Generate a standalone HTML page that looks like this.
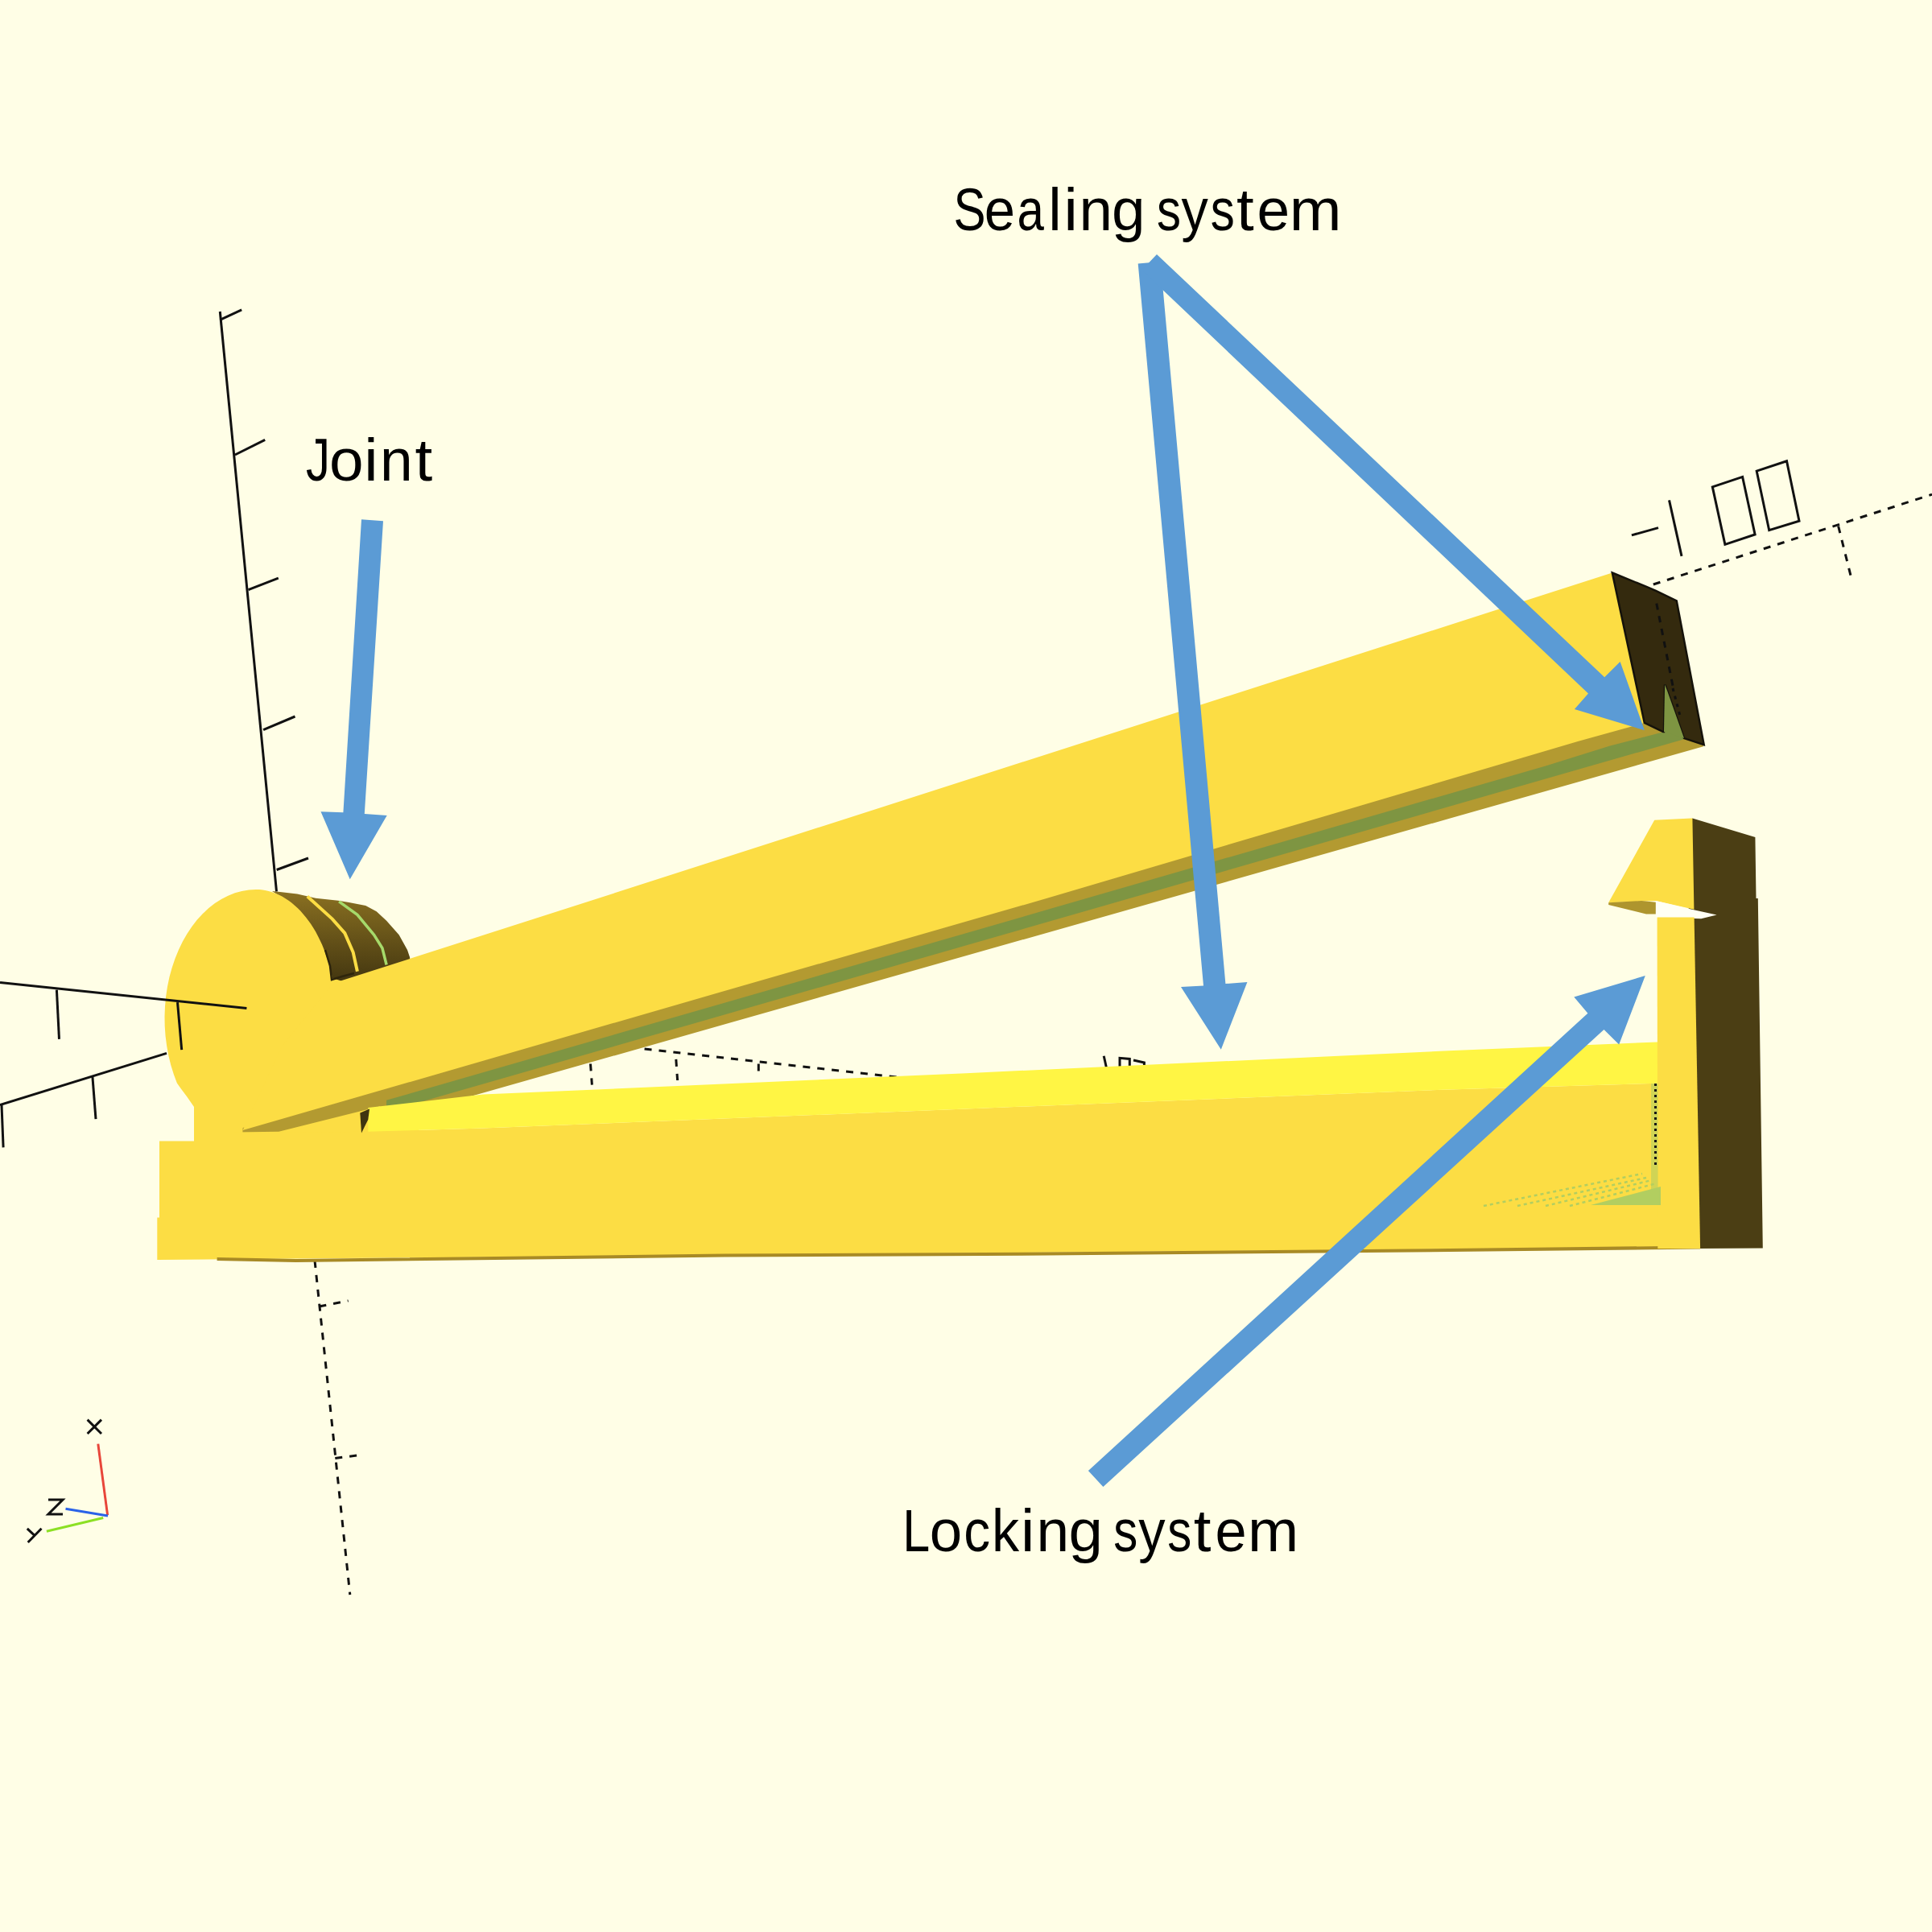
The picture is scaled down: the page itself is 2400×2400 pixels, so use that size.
<!DOCTYPE html>
<html><head><meta charset="utf-8"><title>Sealer diagram</title>
<style>
html,body{margin:0;padding:0;background:#FFFEE6;}
body{width:2400px;height:2400px;overflow:hidden;}
svg{display:block;}
text{font-family:"Liberation Sans",sans-serif;}
</style></head>
<body>
<svg width="2400" height="2400" viewBox="0 0 2400 2400">
<defs>
<linearGradient id="ridge" x1="0" y1="1105" x2="0" y2="1220" gradientUnits="userSpaceOnUse">
<stop offset="0" stop-color="#8C7222"/><stop offset="1" stop-color="#433610"/>
</linearGradient>
</defs>
<rect x="0" y="0" width="2400" height="2400" fill="#FFFEE6"/>

<!-- AXES -->
<g id="daxes" stroke="#111" stroke-width="3" fill="none" stroke-dasharray="9 9">
<line x1="391" y1="1566" x2="434.8" y2="1981"/>
<line x1="396.4" y1="1623" x2="432.6" y2="1615.9"/>
<line x1="416.3" y1="1811.5" x2="450.7" y2="1807"/>
<line x1="800.6" y1="1302.9" x2="1300" y2="1359"/>
<line x1="733.5" y1="1321.5" x2="735.4" y2="1347.6"/>
<line x1="839.8" y1="1315.9" x2="841.6" y2="1342"/>
<line x1="942.3" y1="1321.5" x2="942.3" y2="1336.4"/>
<line x1="2053.8" y1="726" x2="2400" y2="614.2"/>
<line x1="2283.6" y1="653.5" x2="2300.2" y2="719.8"/>
</g>
<g id="labels" stroke="#111" stroke-width="3" fill="none">
<line x1="2026.9" y1="664.9" x2="2060" y2="655.6"/>
<line x1="2073.5" y1="621.4" x2="2089" y2="690.8"/>
<polygon points="2127.3,604.9 2164.6,592.4 2180.1,663.9 2142.9,676.3"/>
<polygon points="2182.2,585.2 2219.5,572.8 2235,647.3 2197.7,658.7"/>
<line x1="1371.2" y1="1311.7" x2="1374.8" y2="1328"/>
<polyline points="1391,1328 1391,1314.3 1403.3,1315.4 1403.3,1328"/>
<polyline points="1408,1317 1421.4,1320 1421.4,1328"/>
</g>

<!-- DISK -->
<path id="ridges" fill="url(#ridge)" d="M343.5,1107.4 L369.3,1110.5 L392.1,1115.7 L420,1118.8 L433.5,1120.9 L454.2,1125 L467.7,1132.3 L480.1,1143.7 L495.6,1161.3 L506,1179.9 L509.1,1189.2 L512,1240 L412,1240 L405,1215 L404,1198.5 L398,1183 L388,1159.2 L376,1138.5 L356,1118.8 L338,1107 Z"/>
<polygon id="disk" fill="#FCDD44" points="241,1375 232,1362 224.5,1352 219.9,1345.5 215.8,1334.6 212.3,1323.2 209.4,1311.4 207.2,1299.4 205.6,1287.2 204.7,1274.8 204.5,1262.4 205.0,1249.9 206.2,1237.6 208.0,1225.5 210.5,1213.6 213.7,1201.9 217.5,1190.7 221.9,1179.9 226.8,1169.7 232.4,1160.0 238.4,1150.9 244.9,1142.6 251.9,1134.9 259.3,1128.1 267.0,1122.1 275.0,1116.9 283.3,1112.7 291.8,1109.3 300.4,1106.9 309.2,1105.5 318.0,1105.0 322.2,1105.1 326.3,1105.6 330.5,1106.3 334.6,1107.2 338.7,1108.5 342.8,1110.0 346.8,1111.8 350.8,1113.8 354.7,1116.2 358.6,1118.8 362.3,1121.6 366.0,1124.7 369.7,1128.0 373.2,1131.6 376.6,1135.4 380.0,1139.4 383.2,1143.7 386.3,1148.1 389.3,1152.8 392.2,1157.6 394.9,1162.7 397.5,1167.9 400.0,1173.3 402.3,1178.9 404.4,1184.6 406.5,1190.4 408.3,1196.4 410.1,1202.5 411.6,1208.7 413.0,1215.0 520,1250 520,1430 241,1430 241,1375"/>
<polyline fill="none" stroke="#FCDD44" stroke-width="4" points="381.8,1113.6 412.8,1141.6 428.3,1159.2 438.7,1183 443.9,1206.8"/>
<polyline fill="none" stroke="#2E250B" stroke-width="2.5" points="404,1180 410,1200 412,1217 425,1213 440,1209"/>
<polyline fill="none" stroke="#A6DA6A" stroke-width="3.5" points="421.1,1119.8 443.9,1136.4 464.6,1161.3 474.9,1177.8 480.1,1198.5"/>

<g id="axes" stroke="#111" stroke-width="3" fill="none" stroke-linecap="butt">
<line x1="273.3" y1="387" x2="343.5" y2="1107.4"/>
<line x1="273.3" y1="397.3" x2="300.2" y2="384.9"/>
<line x1="291.9" y1="565" x2="329.2" y2="546.4"/>
<line x1="308.5" y1="732.7" x2="345.8" y2="718.2"/>
<line x1="327.1" y1="906.6" x2="366.5" y2="890"/>
<line x1="343.7" y1="1080.5" x2="383" y2="1066"/>
<line x1="0" y1="1220.4" x2="306.4" y2="1252.5"/>
<line x1="70.4" y1="1229.7" x2="73.5" y2="1290.8"/>
<line x1="220.5" y1="1245.2" x2="225.7" y2="1304.2"/>
<line x1="0" y1="1372.6" x2="207" y2="1308.4"/>
<line x1="114.9" y1="1337.4" x2="119" y2="1390.2"/>
<line x1="2" y1="1372.6" x2="4.1" y2="1425.4"/>
</g>

<!-- ARM -->
<polygon id="armbrown" fill="#B39A31" points="301.6,1401 900,1228 1300,1113 1960,918 2042.8,894 2065.9,909.1 2067,909.1 2092,917.1 2116.7,925.1 2116,927.2 300,1442.8"/>
<polygon id="armgreen" fill="#7E9542" points="480,1366.8 900,1245.7 1300,1130.3 1920,951.5 2000,926.5 2066.4,909.3 2067,909.1 2068.1,850.4 2071,857.7 2092,917.1 2092,918.2 480,1381.1"/>
<polygon id="armfront" fill="#FCDD44" points="2002.8,711.5 413.7,1221.6 350,1300 301.6,1404.1 900,1231 1300,1116 1960,921.1 2042.8,898"/>
<polygon id="armdark" fill="#342A0E" stroke="#15120A" stroke-width="2.5" stroke-linejoin="miter" points="2002.8,711.5 2045.4,728.9 2057,733.9 2082.7,746.3 2116.7,925.1 2092,917.1 2071,857.7 2068.1,850.4 2067,909.1 2065.9,909.1 2042.8,898"/>
<polygon fill="#7E9542" points="2067,909.1 2068.1,850.4 2071,857.7 2092,917.1"/>
<line x1="2057.8" y1="749.6" x2="2078" y2="852" stroke="#111" stroke-width="3" stroke-dasharray="8 8"/>
<line x1="2078" y1="855" x2="2088" y2="893" stroke="#111" stroke-width="3" stroke-dasharray="4 6"/>

<!-- BASE -->
<polygon id="bracket" fill="#FCDD44" points="290,1406.5 346.3,1405.8 472.2,1374.3 472.2,1450 290,1450"/>
<polygon id="basefront" fill="#FCDD44" points="241,1417.5 198,1417.5 198,1512.6 195.3,1512.6 195.3,1565 2112.1,1549 2059.3,1345.7 1800,1353.4 1200,1377.5 600,1401.6 457.3,1405.8 346.3,1407 301.6,1408 241,1408"/>
<polygon id="baselight" fill="#FFF544" points="457.3,1376 600,1359.6 1200,1333.2 1800,1305.3 2059.3,1294.4 2059.3,1345.7 1800,1353.4 1200,1377.5 600,1401.6 457.3,1405.8"/>
<polygon id="sliver" fill="#3F3410" points="447.3,1382.6 459,1377.6 457.3,1390.8 449,1407.4"/>
<polyline fill="none" stroke="#A88A25" stroke-width="4" points="269.6,1564 367.4,1566 900,1559.5 1300,1557.5 1800,1553 2112,1549.5"/>

<!-- LOCK -->
<polygon id="lockdark" fill="#4B3E14" points="2096,1030 2102.4,1016.5 2180.4,1039.9 2181.5,1116 2183.8,1116 2189.8,1550.6 2105,1551"/>
<polygon id="hook" fill="#FCDD44" points="2055.2,1018.8 2101.3,1016.5 2102.4,1016.5 2104.4,1129.8 2056.9,1119 1998.2,1121.3"/>
<polygon id="hookunder" fill="#AE952E" points="1998.2,1121.3 2039,1119 2056.9,1120.7 2056.9,1135.5 2045,1135.5 1998.2,1124"/>
<polygon id="gap" fill="#FFFFF4" points="2056.9,1119 2101.8,1129.8 2132.6,1136.6 2113.2,1141.2 2056.9,1139.5"/>
<polygon id="stem" fill="#FCDD44" points="2058.6,1139.5 2104.6,1139.5 2112.1,1551 2059.3,1551"/>
<g id="hatch">
<polygon fill="#B2CE60" opacity="0.6" points="2051,1346 2059.5,1346 2059.5,1497 2051,1497"/>
<polygon fill="#B2CE60" points="1976,1497 2063,1474 2063,1497"/>
<g stroke="#B2CE60" stroke-width="2.5" stroke-dasharray="4 4" fill="none">
<line x1="1843" y1="1498" x2="2040" y2="1458"/>
<line x1="1885" y1="1498" x2="2045" y2="1463"/>
<line x1="1920" y1="1498" x2="2052" y2="1466"/>
<line x1="1950" y1="1498" x2="2058" y2="1470"/>
</g>
<line x1="2056.5" y1="1346" x2="2056.5" y2="1447" stroke="#151515" stroke-width="3" stroke-dasharray="3 4"/>
</g>

<!-- ARROWS -->
<g fill="#5B9BD5">
<polygon points="449,645.3 476,647.3 452.8,1011.1 480.7,1012.9 434.7,1092.2 398.5,1008.2 426.4,1009.3"/>
<polygon points="1413.7,327.4 1441.6,325 1522.4,1222 1549.4,1219.9 1516.8,1303.7 1467,1226 1495,1224.5"/>
<polygon points="1437,316 1993.2,841.3 2012.6,821.9 2042.9,907.3 1955.9,880.9 1973,861.5 1418.4,335.5"/>
<polygon points="1351.9,1827 1972.4,1258.7 1955.3,1238.5 2043.8,1212.1 2011.2,1297.5 1992.5,1278.9 1370.4,1846.9"/>
</g>

<!-- TEXT -->
<g fill="#000" font-size="75">
<g id="t1"><text transform="translate(393.4,596.6) scale(0.800,1)" x="-16.6" y="0">J</text><text transform="translate(430.4,596.6) scale(1.022,1)" x="-20.9" y="0">o</text><text transform="translate(460.9,596.6) scale(1.040,1)" x="-8.3" y="0">i</text><text transform="translate(492.5,596.6) scale(0.976,1)" x="-20.9" y="0">n</text><text transform="translate(526.7,596.6) scale(1.040,1)" x="-10.7" y="0">t</text></g>
<g id="t2"><text transform="translate(1204.6,285.8) scale(0.800,1)" x="-25.0" y="0">S</text><text transform="translate(1241.8,285.8) scale(0.918,1)" x="-20.8" y="0">e</text><text transform="translate(1281.3,285.8) scale(0.800,1)" x="-22.4" y="0">a</text><text transform="translate(1310.4,285.8) scale(0.986,1)" x="-8.3" y="0">l</text><text transform="translate(1330.1,285.8) scale(1.040,1)" x="-8.3" y="0">i</text><text transform="translate(1361.2,285.8) scale(0.995,1)" x="-20.9" y="0">n</text><text transform="translate(1401.0,285.8) scale(0.996,1)" x="-20.0" y="0">g</text><text transform="translate(1451.6,285.8) scale(0.800,1)" x="-18.4" y="0">s</text><text transform="translate(1484.3,285.8) scale(0.888,1)" x="-18.8" y="0">y</text><text transform="translate(1518.6,285.8) scale(0.801,1)" x="-18.4" y="0">s</text><text transform="translate(1547.2,285.8) scale(1.040,1)" x="-10.7" y="0">t</text><text transform="translate(1581.8,285.8) scale(0.975,1)" x="-20.8" y="0">e</text><text transform="translate(1634.3,285.8) scale(1.037,1)" x="-31.3" y="0">m</text></g>
<g id="t3"><text transform="translate(1139.6,1926.6) scale(0.813,1)" x="-22.7" y="0">L</text><text transform="translate(1174.9,1926.6) scale(0.969,1)" x="-20.9" y="0">o</text><text transform="translate(1214.3,1926.6) scale(0.875,1)" x="-19.4" y="0">c</text><text transform="translate(1251.3,1926.6) scale(0.909,1)" x="-21.3" y="0">k</text><text transform="translate(1276.5,1926.6) scale(1.040,1)" x="-8.3" y="0">i</text><text transform="translate(1307.8,1926.6) scale(0.973,1)" x="-20.9" y="0">n</text><text transform="translate(1347.9,1926.6) scale(1.017,1)" x="-20.0" y="0">g</text><text transform="translate(1397.9,1926.6) scale(0.800,1)" x="-18.4" y="0">s</text><text transform="translate(1430.9,1926.6) scale(0.888,1)" x="-18.8" y="0">y</text><text transform="translate(1464.9,1926.6) scale(0.800,1)" x="-18.4" y="0">s</text><text transform="translate(1493.8,1926.6) scale(1.040,1)" x="-10.7" y="0">t</text><text transform="translate(1529.1,1926.6) scale(0.938,1)" x="-20.8" y="0">e</text><text transform="translate(1581.6,1926.6) scale(1.012,1)" x="-31.3" y="0">m</text></g>
</g>

<!-- AXIS INDICATOR -->
<g stroke-width="3" fill="none">
<line x1="121.8" y1="1793.6" x2="133.6" y2="1882.1" stroke="#E8463A"/>
<line x1="81.5" y1="1874.2" x2="134" y2="1883" stroke="#2A62E8"/>
<line x1="57.9" y1="1902.2" x2="128.2" y2="1885.5" stroke="#8CE024"/>
<g stroke="#111">
<line x1="108.6" y1="1763.6" x2="126" y2="1781"/><line x1="126" y1="1763.6" x2="108.6" y2="1781"/>
<polyline points="60,1863 78,1863 60,1881 78,1881"/>
<line x1="51.5" y1="1898.8" x2="34.7" y2="1916"/><line x1="33.8" y1="1898.8" x2="42.6" y2="1907.2"/>
</g>
</g>
</svg>
</body></html>
